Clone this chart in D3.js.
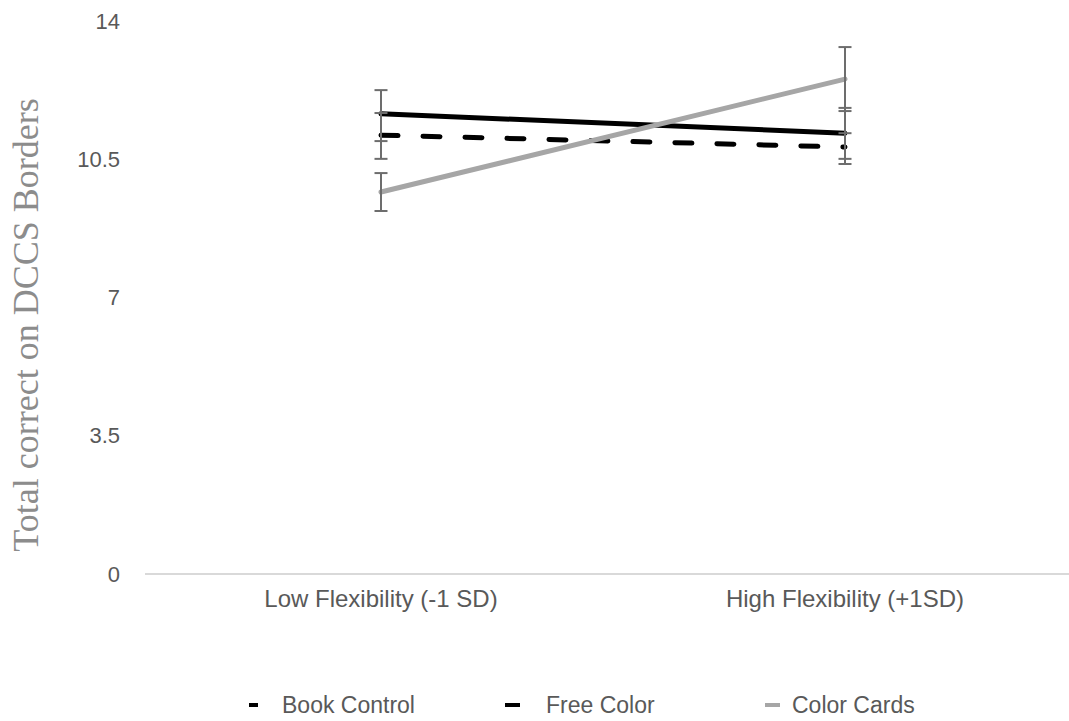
<!DOCTYPE html>
<html>
<head>
<meta charset="utf-8">
<script src="https://cdn.jsdelivr.net/npm/d3@7/dist/d3.min.js"></script>
<style>
  html, body { margin: 0; padding: 0; background: #fff; }
  svg { display: block; }
</style>
</head>
<body>
<svg id="chart" width="1069" height="721"></svg>
<script>
// ---- data ----
const categories = ["Low Flexibility (-1 SD)", "High Flexibility (+1SD)"];
const seriesNames = ["Book Control", "Free Color", "Color Cards"];
const bookControl = [11.11, 10.81];
const bookControlLow = [10.51, 10.38];
const bookControlHigh = [11.67, 11.16];
const freeColor = [11.65, 11.16];
const freeColorLow = [10.96, 10.51];
const freeColorHigh = [12.25, 11.80];
const colorCards = [9.67, 12.53];
const colorCardsLow = [9.19, 11.72];
const colorCardsHigh = [10.15, 13.34];
const yTicks = [0, 3.5, 7, 10.5, 14];
const yTitle = "Total correct on DCCS Borders";

const series = [
  { name: seriesNames[0], values: bookControl, lo: bookControlLow, hi: bookControlHigh,
    color: "#000", dash: "17,25", legendW: 9 },
  { name: seriesNames[1], values: freeColor, lo: freeColorLow, hi: freeColorHigh,
    color: "#000", dash: null, legendW: 15 },
  { name: seriesNames[2], values: colorCards, lo: colorCardsLow, hi: colorCardsHigh,
    color: "#a6a6a6", dash: null, legendW: 15 }
];

const svg = d3.select("#chart");
const y = d3.scaleLinear().domain([0, 14]).range([574, 21]);
const x = d3.scalePoint().domain(categories).range([149, 1077]).padding(0.5);

const font = "'Liberation Sans', Arial, Helvetica, sans-serif";
const textColor = "#595959";

// y tick labels
svg.append("g").selectAll("text").data(yTicks).join("text")
  .attr("x", 120).attr("y", d => y(d)).attr("dy", "0.35em")
  .attr("text-anchor", "end")
  .attr("font-family", font).attr("font-size", 22).attr("fill", textColor)
  .text(d => d);

// x axis line
svg.append("line")
  .attr("x1", 145).attr("x2", 1069).attr("y1", y(0)).attr("y2", y(0))
  .attr("stroke", "#d9d9d9").attr("stroke-width", 2);

// x category labels
svg.append("g").selectAll("text").data(categories).join("text")
  .attr("x", d => x(d)).attr("y", y(0) + 25).attr("dy", "0.35em")
  .attr("text-anchor", "middle")
  .attr("font-family", font).attr("font-size", 24).attr("fill", textColor)
  .text(d => d);

// y title
svg.append("text")
  .attr("transform", "translate(38,325) rotate(-90)")
  .attr("text-anchor", "middle")
  .attr("font-family", "'Liberation Serif', 'Times New Roman', serif")
  .attr("font-size", 36).attr("fill", "#8c8c8c")
  .text(yTitle);

// lines
const line = d3.line().x((d, i) => x(categories[i])).y(d => y(d));
svg.append("g").selectAll("path").data(series).join("path")
  .attr("d", d => line(d.values))
  .attr("fill", "none")
  .attr("stroke", d => d.color)
  .attr("stroke-width", 5)
  .attr("stroke-linecap", "round")
  .attr("stroke-dasharray", d => d.dash);

// error bars
const eb = svg.append("g").attr("stroke", "#6d6d6d").attr("stroke-width", 2);
series.forEach(s => {
  categories.forEach((c, i) => {
    const cx = x(c);
    eb.append("line").attr("x1", cx).attr("x2", cx)
      .attr("y1", y(s.lo[i])).attr("y2", y(s.hi[i]));
    [s.lo[i], s.hi[i]].forEach(v => {
      eb.append("line").attr("x1", cx - 6.5).attr("x2", cx + 6.5)
        .attr("y1", y(v)).attr("y2", y(v));
    });
  });
});

// legend
const legendX = [249, 505, 765];
const legendTextX = [282, 546, 792];
const legendY = 705;
const lg = svg.append("g");
series.forEach((s, i) => {
  lg.append("line")
    .attr("x1", legendX[i]).attr("x2", legendX[i] + s.legendW)
    .attr("y1", legendY).attr("y2", legendY)
    .attr("stroke", s.color).attr("stroke-width", 4);
  lg.append("text")
    .attr("x", legendTextX[i]).attr("y", legendY).attr("dy", "0.35em")
    .attr("font-family", font).attr("font-size", 23).attr("fill", textColor)
    .text(s.name);
});
</script>
</body>
</html>
